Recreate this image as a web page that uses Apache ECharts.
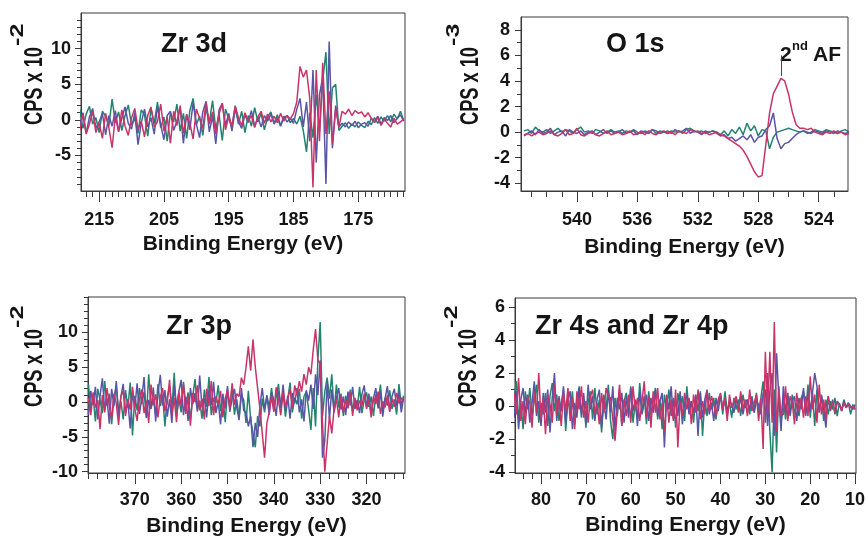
<!DOCTYPE html>
<html><head><meta charset="utf-8">
<script src="https://cdn.jsdelivr.net/npm/echarts@6/dist/echarts.min.js"></script>
<style>html,body{margin:0;padding:0;background:#fff}#c{width:866px;height:538px}</style>
</head><body><div id="c"></div>
<script>
// ---------------- DATA ----------------
// Zr 3d panel: binding energy 218 -> 168 eV, step 0.5 eV, CPS x 10^-2
const zr3dGreen = [1.5,-1.2,0.8,1.9,-0.6,0.3,-1.8,1.2,0.5,-0.9,
 2.9,-0.4,1.1,-1.5,0.6,2.1,-0.8,0.2,-1.9,1.4,
 0.7,-2.3,1.6,-0.5,2.5,-1.1,0.4,-3.0,1.0,-0.3,
 2.2,-1.6,0.9,-2.6,1.3,3.0,-0.7,0.5,-2.2,1.8,
 -0.4,2.7,-1.3,0.8,-2.9,1.5,0.1,-1.0,2.0,-0.6,
 1.2,-1.8,0.6,-0.9,1.7,-0.3,0.9,-1.4,0.4,1.1,
 -0.5,0.7,-0.8,0.3,0.6,-0.4,0.2,-0.6,0.5,-1.5,
 -4.5,1.0,-2.5,3.5,-1.5,5.5,9.5,-2.0,4.5,5.0,
 -1.5,-0.9,-0.4,-1.2,-0.6,-1.0,-0.3,-0.8,-1.1,-0.2,
 -0.7,0.3,-0.5,0.4,-0.2,0.6,-0.3,0.8,0.1,1.2,
 -0.1];
const zr3dBlue = [-0.8,1.0,-1.9,0.4,1.6,-1.2,-0.3,0.9,-2.1,0.6,
 -0.9,1.3,-1.6,0.2,1.8,-0.5,-1.3,1.0,-3.5,-0.4,
 1.5,-1.0,0.3,-2.0,1.9,-0.7,-2.8,0.6,1.2,-1.5,
 -0.2,1.7,-3.3,0.8,-1.4,2.4,-0.6,-2.5,1.1,2.6,
 -1.7,0.5,-3.4,1.4,2.3,-0.8,0.9,-1.6,1.6,-0.3,
 -1.2,0.7,-0.4,1.3,-0.9,0.4,-1.0,0.6,-0.2,0.8,
 -0.6,0.3,-0.9,0.5,-0.3,0.2,-0.5,1.5,3.0,-1.0,
 2.5,-3.0,7.0,-6.0,3.5,6.0,-9.0,11.0,-4.0,2.0,
 -1.0,-0.5,-1.0,-0.3,-0.8,-0.2,-1.1,-0.6,-0.4,-0.9,
 0.2,-0.3,0.5,-0.6,0.3,-0.1,0.6,-0.4,0.2,0.7,
 -0.2];
const zr3dPink = [-1.5,0.8,-2.0,-0.6,1.2,-1.8,-0.4,-2.6,0.9,-1.1,
 -3.9,0.5,-1.7,1.4,-0.9,-2.2,0.3,1.6,-1.3,-0.2,
 -2.4,0.6,1.8,-1.0,-0.3,2.2,-1.6,0.4,-3.3,1.2,
 -0.8,2.0,-1.9,0.7,-0.5,-2.7,1.5,0.2,-1.2,2.5,
 -0.6,1.1,-2.0,0.8,2.3,-1.4,0.5,-0.9,1.9,0.3,
 -0.8,1.0,-0.2,0.6,-1.1,0.4,1.2,-0.5,0.8,-0.3,
 0.5,-0.4,0.9,-0.2,0.6,0.1,0.9,2.5,7.5,6.0,
 7.0,3.0,-9.5,7.0,-3.0,8.0,-2.0,4.0,-3.5,1.5,
 -1.0,1.2,0.8,1.5,0.6,1.3,0.9,1.1,0.4,1.0,
 0.2,-0.4,0.3,-0.8,0.1,-0.5,-1.0,0.2,-0.6,-0.3,
 0.1];

// O 1s panel: 543.5 -> 522 eV, step 0.25 eV, CPS x 10^-3
const o1sGreen = [0.1,0.2,-0.1,0.4,0.1,0.0,0.2,-0.1,0.1,0.3,
 0.0,0.2,0.1,-0.1,0.2,0.4,0.0,0.1,-0.1,0.2,
 0.1,-0.1,0.0,0.2,0.0,0.1,-0.1,0.1,0.0,0.2,
 0.0,-0.1,0.1,0.0,0.2,-0.1,0.1,0.0,-0.1,0.1,
 0.0,0.1,-0.1,0.2,0.3,0.1,0.0,0.1,-0.1,0.0,
 0.1,0.0,-0.2,0.1,-0.3,0.2,-0.1,0.4,-0.2,0.7,
 0.1,0.5,-0.3,0.2,0.1,-1.3,-0.4,0.0,0.1,0.2,
 0.3,0.2,0.1,0.0,0.1,-0.1,0.0,0.2,0.1,0.0,
 0.2,0.1,0.0,-0.1,0.1,0.2,0.0];
const o1sBlue = [-0.3,-0.1,0.1,-0.2,0.2,-0.1,0.0,0.3,-0.2,0.0,
 0.1,-0.3,0.2,0.0,-0.1,0.1,-0.2,0.0,0.1,-0.2,
 0.0,0.2,-0.1,0.1,-0.1,0.0,0.2,-0.1,0.0,0.1,
 -0.2,0.1,0.0,-0.1,0.2,0.1,-0.1,0.0,0.1,-0.1,
 0.2,0.0,0.1,0.3,-0.1,0.1,0.0,-0.2,0.1,0.0,
 0.1,-0.1,-0.3,-0.2,-0.5,-0.4,-0.7,-0.5,-0.3,-0.6,
 -0.2,-0.8,-0.4,-0.3,0.2,0.5,1.5,-0.5,-1.3,-0.9,
 -0.8,-0.5,-0.2,0.0,0.1,0.0,-0.1,0.1,0.0,-0.1,
 0.1,0.0,-0.1,0.1,0.0,-0.1,0.0];
const o1sPink = [-0.2,-0.1,-0.3,-0.1,0.0,-0.2,-0.1,0.1,-0.2,-0.3,
 -0.1,0.2,-0.2,-0.1,0.3,-0.2,-0.3,-0.1,0.0,-0.2,
 -0.3,-0.1,0.1,-0.2,-0.1,0.0,-0.2,-0.1,0.1,-0.2,
 -0.1,0.0,-0.2,0.1,-0.1,-0.2,0.0,0.1,-0.1,0.0,
 -0.2,0.1,0.0,-0.1,0.2,0.0,0.1,-0.1,0.0,-0.2,
 -0.1,0.0,-0.2,-0.3,-0.5,-0.7,-0.9,-1.1,-1.4,-1.9,
 -2.5,-3.1,-3.5,-3.4,-1.0,1.5,3.0,3.6,4.2,4.0,
 3.0,1.6,0.6,0.3,0.3,0.2,0.3,0.0,-0.1,-0.2,
 0.0,-0.1,0.1,-0.1,0.0,-0.2,-0.1];

// Zr 3p panel: 380 -> 312 eV, step 0.5 eV, CPS x 10^-2
const zr3pGreen = [2.5,-1.0,0.8,-2.8,1.9,0.3,-1.6,3.0,-0.5,1.2,
 -3.2,0.6,2.2,-1.4,0.1,-2.5,1.7,-0.8,2.8,-4.8,
 0.9,-1.2,2.0,-0.3,1.5,-2.2,4.0,-0.9,0.4,-1.8,
 2.6,-0.6,1.1,-3.5,0.7,2.3,-1.0,4.2,-2.0,0.5,
 -1.5,2.9,-0.4,1.4,-2.6,0.8,3.3,-1.1,0.2,-2.4,
 1.8,-0.7,3.6,-1.9,0.6,-0.2,2.4,-1.3,0.9,-2.9,
 1.5,-0.5,2.1,-1.8,0.4,-2.2,1.0,0.3,-3.0,1.6,
 -2.5,-4.5,-6.5,-2.0,-3.5,0.5,-1.5,1.0,-0.8,2.0,
 -1.2,0.7,2.6,-0.9,1.3,-2.1,0.4,2.8,-1.5,0.6,
 -0.3,1.9,-2.4,0.8,1.5,-1.1,-4.0,2.0,-3.5,6.0,
 11.5,-2.0,1.5,3.5,0.5,4.0,-1.5,2.5,-0.8,1.2,
 -2.0,0.9,-0.4,1.8,-1.3,0.5,-0.9,2.2,-1.6,0.3,
 1.4,-0.7,0.8,-2.0,1.1,-0.2,2.5,-1.4,0.6,-0.5,
 1.7,-1.0,0.4,-1.8,2.6,-0.6,0.9];
const zr3pBlue = [-1.8,1.6,-0.4,2.2,-2.5,0.9,3.4,-1.2,0.5,-3.1,
 1.9,-0.6,3.0,-2.0,0.8,2.6,-1.5,0.2,-3.8,1.4,
 -0.9,2.7,-1.7,0.6,3.6,-2.3,0.3,-1.0,2.1,-2.8,
 1.2,3.9,-0.5,1.7,-2.1,0.4,-3.0,2.4,-0.7,1.5,
 3.2,-1.9,0.7,-2.7,2.0,-0.3,1.3,-1.4,3.8,-0.8,
 0.6,-2.2,1.8,-0.4,2.9,-1.6,0.1,-3.2,1.2,-0.9,
 2.3,-1.4,0.5,1.9,-0.8,-2.6,2.0,-1.2,-1.5,-3.5,
 -2.0,-6.5,-3.0,-5.0,-0.5,2.0,-1.0,0.8,-1.8,1.4,
 0.3,-2.0,1.6,-0.6,2.5,-1.2,0.9,-2.4,1.3,-0.2,
 2.0,-1.5,0.4,-2.8,1.7,0.2,2.5,-1.0,4.0,1.0,
 6.0,-8.0,-5.5,3.0,-2.5,1.8,-1.5,0.6,2.0,-1.1,
 0.8,-1.9,1.5,-0.5,2.2,-1.0,0.3,-1.6,1.1,2.4,
 -0.7,1.2,-1.8,0.6,2.0,-0.9,1.4,-2.1,0.5,2.3,
 -1.2,0.8,1.9,-0.6,1.4,-1.5,0.7];
const zr3pPink = [0.6,-1.9,1.4,-0.8,0.3,-3.9,1.0,-1.5,2.0,-0.6,
 -2.4,1.2,-0.2,-3.3,0.8,1.6,-2.0,0.4,-1.1,2.2,
 -0.9,-2.7,0.5,1.8,-1.6,0.2,-3.0,2.5,-0.4,1.1,
 -2.2,0.7,2.0,-1.3,-0.1,3.2,-1.8,0.6,-2.9,1.5,
 -0.5,2.6,-1.7,0.9,-3.4,1.3,0.0,2.4,-1.2,0.5,
 -2.5,1.9,-0.6,3.0,-1.9,0.8,-0.3,1.6,-2.2,0.4,
 1.8,-1.0,2.7,-0.4,1.2,0.8,3.5,2.5,5.0,8.0,
 4.5,9.0,5.0,2.0,-1.0,-4.5,-8.0,-3.0,-1.5,0.8,
 -1.4,2.1,0.2,-1.9,1.5,-0.7,0.4,1.9,-0.8,2.4,
 1.0,3.0,1.5,4.0,2.5,5.0,4.0,7.5,10.5,6.0,
 5.5,-3.0,-10.0,-6.0,-2.0,-4.5,-1.0,0.5,-2.2,1.0,
 -1.5,0.3,-0.9,1.4,-2.0,0.6,-1.2,0.2,-0.6,1.2,
 -1.0,0.4,-2.2,0.8,-0.3,1.5,-1.7,0.1,-0.8,1.0,
 -1.4,0.5,-0.7,1.3,-0.2,0.6,0.1];

// Zr 4s / Zr 4p panel: 86 -> 10 eV, step 0.5 eV, CPS x 10^-2
const zr4Green = [0.5,1.5,-0.8,0.3,-1.4,0.9,-0.2,1.1,-0.6,0.4,
 1.3,-1.0,0.2,-0.5,0.8,-1.2,0.6,1.4,-0.3,0.7,
 -0.9,0.1,1.0,-1.5,0.5,-0.4,0.9,-1.1,0.3,1.2,
 -0.7,0.6,-1.3,0.2,0.9,-0.8,1.1,-0.5,0.4,-1.6,
 0.7,-0.2,1.3,-0.9,-2.0,0.5,-0.6,1.0,-1.2,0.3,
 0.8,-0.4,1.2,-1.0,0.2,-0.7,1.4,-0.3,0.6,-1.1,
 0.9,-0.5,0.3,1.1,-0.8,0.4,-1.4,0.7,-0.2,1.0,
 -0.6,0.5,-1.3,0.8,-0.1,0.6,-0.9,1.2,-0.4,0.3,
 -1.0,0.7,-0.3,0.9,-1.8,0.4,-0.6,0.8,-0.2,0.5,
 -0.8,0.3,0.6,-0.5,0.9,-0.3,0.2,-0.7,0.5,-0.2,
 0.4,-0.6,0.7,-0.1,0.3,-0.5,0.6,-0.3,0.8,-0.4,
 0.5,1.5,-1.0,2.0,-1.5,-4.0,1.0,-2.8,1.2,-1.0,
 0.6,-0.8,0.4,-0.3,0.7,-0.5,0.2,-0.6,0.5,0.9,
 -0.4,1.3,-0.7,0.8,-1.2,1.0,-0.3,0.6,-0.9,0.4,
 -0.5,0.3,-0.2,0.5,-0.6,0.2,-0.3,0.4,-0.1,0.2,
 -0.5,0.1,-0.2];
const zr4Blue = [-0.7,0.9,-1.4,0.4,1.1,-0.5,0.7,-1.0,0.2,1.5,
 -0.6,0.3,-1.2,0.8,-0.4,1.0,-1.6,0.5,2.0,-0.9,
 0.6,-0.3,1.2,-1.0,0.4,0.9,-1.4,0.2,-0.7,1.1,
 -0.5,0.8,-1.1,1.3,-0.2,0.6,-0.9,0.4,1.0,-1.3,
 0.3,-0.8,0.9,-0.4,1.2,-1.5,0.5,-0.2,0.8,-1.0,
 0.6,-0.7,1.1,-0.3,0.4,-1.2,0.9,-0.5,0.2,0.7,
 -0.9,0.5,-0.4,1.0,-0.6,0.3,0.8,-2.5,0.6,-0.2,
 1.2,-0.8,0.4,-0.6,0.9,-1.1,0.2,0.7,-0.5,0.3,
 -0.4,0.6,-1.8,0.8,-0.7,0.4,1.0,-0.5,0.2,-0.9,
 0.5,-0.3,0.7,-0.2,0.4,-0.6,0.3,0.1,-0.4,0.5,
 -0.3,0.6,-0.5,0.2,0.4,-0.2,0.5,-0.4,0.3,0.1,
 -0.5,0.8,1.0,-1.2,0.9,2.0,-1.8,3.2,0.5,-1.5,
 1.2,-0.4,0.8,-0.6,0.3,0.6,-0.9,0.5,-0.2,1.1,
 -0.6,0.9,-0.3,0.8,2.0,1.2,-0.4,0.7,-0.2,-1.3,
 0.6,-0.3,0.4,-0.5,0.3,0.1,-0.2,0.3,-0.1,0.2,
 0.0,-0.2,0.1];
const zr4Pink = [0.8,-0.5,1.7,-0.9,0.3,-1.1,0.6,0.2,-1.3,0.9,
 -0.4,2.0,-0.8,0.5,-1.7,0.7,0.1,-1.0,1.3,-0.6,
 0.4,-1.2,0.8,-0.3,1.1,-0.9,0.5,-1.4,0.9,-0.2,
 1.2,-0.7,0.3,-1.0,0.6,1.0,-0.5,0.2,-1.1,0.8,
 -0.4,1.1,0.6,0.5,-0.8,-2.1,-0.3,1.3,-1.2,0.4,
 -0.6,0.7,-1.0,1.2,-0.2,0.5,-0.9,0.3,1.5,-0.7,
 0.6,-1.3,0.9,-0.4,1.1,-0.8,0.2,-1.6,0.7,-1.0,
 0.4,-0.9,1.0,-2.5,0.3,-0.6,0.8,-0.2,0.5,-1.1,
 0.7,-0.4,1.0,-0.8,0.3,-0.5,0.9,-0.3,0.6,0.1,
 -0.6,0.4,0.8,-0.2,0.5,-0.9,0.7,-0.1,0.3,0.6,
 -0.4,0.9,-0.2,0.4,-0.6,1.0,-0.3,0.2,0.7,-0.9,
 0.5,-2.6,3.3,-0.5,3.3,-1.0,5.1,-1.5,1.0,-0.6,
 -0.5,1.2,-0.9,0.6,0.2,-1.1,0.8,-0.3,0.5,-0.7,
 0.6,-0.6,1.8,-0.2,0.7,-1.0,1.3,-0.5,0.4,-0.8,
 0.6,-0.2,0.3,-0.4,0.2,0.1,-0.3,0.2,-0.1,0.1,
 -0.1,0.0,-0.2];

// tick labels
const zr3dXTicks = [215,205,195,185,175];
const zr3dYTicks = [-5,0,5,10];
const o1sXTicks  = [540,536,532,528,524];
const o1sYTicks  = [-4,-2,0,2,4,6,8];
const zr3pXTicks = [370,360,350,340,330,320];
const zr3pYTicks = [-10,-5,0,5,10];
const zr4XTicks  = [80,70,60,50,40,30,20,10];
const zr4YTicks  = [-4,-2,0,2,4,6];

const panelTitles = ['Zr 3d','O 1s','Zr 3p','Zr 4s and Zr 4p'];
const yExponents  = ['-2','-3','-2','-2'];
const seriesNames = ['green','blue','pink'];

// ---------------- helpers ----------------
function energyGrid(start, step, n){ const o=[]; for(let i=0;i<n;i++) o.push(+(start+step*i).toFixed(3)); return o; }
function ticks(a,b,s){ const o=[]; for(let v=a; v<=b+1e-9; v+=s) o.push(+v.toFixed(3)); return o; }

const FONT = '"Liberation Sans", Arial, Helvetica, sans-serif';
const TXT = '#151515', AX = '#3a3a3a';
const COLORS = ['#23836f', '#5855a6', '#c8346a'];

const panels = [
 {rect:{left:81,top:13,width:324,height:178}, x:[167.8,217.8], y:[-10,15],
  xT:zr3dXTicks, xM:ticks(168,217,1), yT:zr3dYTicks, yM:ticks(-9,14,1),
  e:energyGrid(218,-0.5,zr3dPink.length), s:[zr3dGreen,zr3dBlue,zr3dPink], lm:20, gap:43, ym:10},
 {rect:{left:521,top:17,width:327,height:174}, x:[522.06,543.7], y:[-4.6,9],
  xT:o1sXTicks, xM:ticks(523,543,1), yT:o1sYTicks, yM:ticks(-4,8,1),
  e:energyGrid(543.5,-0.25,o1sPink.length), s:[o1sGreen,o1sBlue,o1sPink], lm:20, gap:46, ym:11},
 {rect:{left:88,top:297,width:317,height:176}, x:[311.7,380.1], y:[-10.2,15.1],
  xT:zr3pXTicks, xM:ticks(312,380,2), yT:zr3pYTicks, yM:ticks(-10,15,1),
  e:energyGrid(380,-0.5,zr3pPink.length), s:[zr3pGreen,zr3pBlue,zr3pPink], lm:18, gap:43, ym:10},
 {rect:{left:515,top:298,width:341,height:175}, x:[9.8,85.8], y:[-4.05,6.55],
  xT:zr4XTicks, xM:ticks(10,84,2), yT:zr4YTicks, yM:ticks(-4,6,1),
  e:energyGrid(86,-0.5,zr4Pink.length), s:[zr4Green,zr4Blue,zr4Pink], lm:18, gap:42, ym:10}
];

const grid=[], xAxis=[], yAxis=[], series=[];
panels.forEach((p,g)=>{
  grid.push(Object.assign({show:true, borderColor:AX, borderWidth:1, backgroundColor:'transparent',
    containLabel:false, outerBoundsMode:'none'}, p.rect));
  const cx = {gridIndex:g, type:'value', min:p.x[0], max:p.x[1], inverse:true, position:'bottom', splitLine:{show:false}};
  xAxis.push(Object.assign({}, cx, {
    axisLine:{show:true, onZero:false, lineStyle:{color:AX, width:1}},
    axisTick:{show:true, inside:false, length:11, customValues:p.xT, lineStyle:{color:AX, width:1}},
    axisLabel:{show:true, customValues:p.xT, margin:p.lm, fontSize:18, fontWeight:'bold', color:TXT, fontFamily:FONT, hideOverlap:false},
    name:'Binding Energy (eV)', nameLocation:'middle', nameGap:p.gap,
    nameTextStyle:{fontSize:21, fontWeight:'bold', color:TXT, fontFamily:FONT}
  }));
  xAxis.push(Object.assign({}, cx, {
    axisLine:{show:false, onZero:false},
    axisTick:{show:true, inside:false, length:6, customValues:p.xM, lineStyle:{color:AX, width:1}},
    axisLabel:{show:false}
  }));
  const cy = {gridIndex:g, type:'value', min:p.y[0], max:p.y[1], position:'left', splitLine:{show:false}};
  yAxis.push(Object.assign({}, cy, {
    axisLine:{show:true, onZero:false, lineStyle:{color:AX, width:1}},
    axisTick:{show:true, inside:false, length:6, customValues:p.yT, lineStyle:{color:AX, width:1}},
    axisLabel:{show:true, customValues:p.yT, margin:p.ym, fontSize:18, fontWeight:'bold', color:TXT, fontFamily:FONT}
  }));
  yAxis.push(Object.assign({}, cy, {
    axisLine:{show:false, onZero:false},
    axisTick:{show:true, inside:false, length:4, customValues:p.yM, lineStyle:{color:AX, width:1}},
    axisLabel:{show:false}
  }));
  p.s.forEach((vals,k)=>{
    const s = {type:'line', name:seriesNames[k], xAxisIndex:2*g, yAxisIndex:2*g,
      data: vals.map((v,i)=>[p.e[i], v]), showSymbol:false, symbol:'none', silent:true,
      lineStyle:{color:COLORS[k], width:1.5}, itemStyle:{color:COLORS[k]}, clip:true, z:2+k};
    if (g===1 && k===2) {
      s.markLine = {silent:true, symbol:['none','none'], animation:false,
        lineStyle:{color:'#444', width:1, type:'solid'}, label:{show:false},
        data:[[{coord:[526.5,4.4]},{coord:[526.5,6.0]}]]};
    }
    series.push(s);
  });
});

const txt = (t, x, y, size, extra) => Object.assign({type:'text', x, y, silent:true,
  style:{text:t, fontSize:size, fontWeight:'bold', fontFamily:FONT, fill:TXT, align:'left', verticalAlign:'middle'}}, extra||{});

const titlePos = [[161,45],[606,45],[166,327],[535,327]];
const yTitlePos = [[35,125,18],[471,125,454],[35,407,18],[469,407,452]];
const graphic = [];
panelTitles.forEach((t,i)=> graphic.push(txt(t, titlePos[i][0], titlePos[i][1], 27)));
yTitlePos.forEach((q,i)=>{
  graphic.push(txt('CPS x 10', q[0], q[1], 26, {rotation:Math.PI/2, scaleX:0.7}));
  graphic.push(txt(yExponents[i], q[2], q[1]-79, 18, {rotation:Math.PI/2, scaleX:1.4}));
});
graphic.push(txt('2', 780, 55, 21));
graphic.push(txt('nd', 792, 46, 13));
graphic.push(txt('AF', 813, 55, 21));

const chart = echarts.init(document.getElementById('c'), null, {renderer:'canvas', devicePixelRatio:1});
chart.setOption({animation:false, backgroundColor:'#fff', grid, xAxis, yAxis, series, graphic});
</script></body></html>
